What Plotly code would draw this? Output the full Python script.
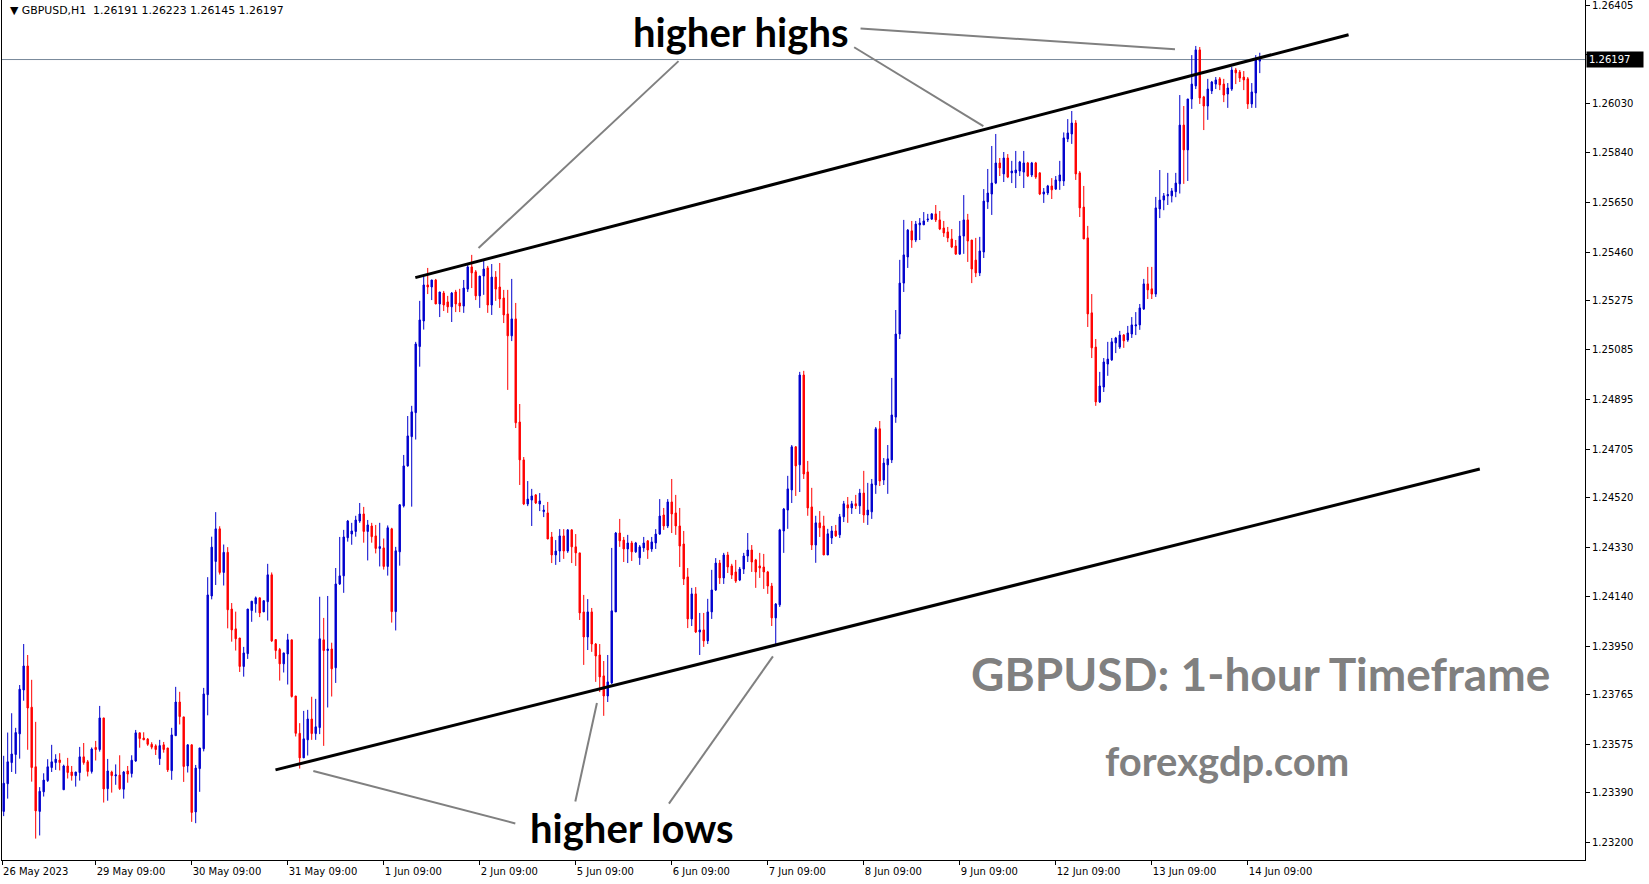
import plotly.graph_objects as go

# ---------------- data (GBPUSD H1, one value per hourly bar) ----------------
opens = [
    1.23318, 1.23424, 1.23505, 1.23536, 1.23615, 1.23783, 1.23875, 1.23717, 1.23489, 1.23318,
    1.23393, 1.23436, 1.23486, 1.23505, 1.23515, 1.23401, 1.23492, 1.23469, 1.23455, 1.23467,
    1.23527, 1.23508, 1.23471, 1.23563, 1.23555, 1.23676, 1.23405, 1.23469, 1.23454, 1.23457,
    1.23403, 1.23473, 1.23463, 1.23511, 1.23619, 1.23599, 1.23595, 1.23575, 1.23569, 1.23520,
    1.23573, 1.23561, 1.23474, 1.23608, 1.23737, 1.23680, 1.23492, 1.23573, 1.23316, 1.23482,
    1.23558, 1.23765, 1.24143, 1.24275, 1.24400, 1.24233, 1.24310, 1.24093, 1.24017, 1.23982,
    1.23873, 1.23922, 1.24087, 1.24113, 1.24136, 1.24082, 1.24121, 1.24224, 1.23976, 1.23938,
    1.23883, 1.23921, 1.23975, 1.23760, 1.23617, 1.23523, 1.23592, 1.23672, 1.23616, 1.23639,
    1.23975, 1.23934, 1.23940, 1.23868, 1.24189, 1.24220, 1.24366, 1.24380, 1.24390, 1.24430,
    1.24457, 1.24390, 1.24411, 1.24373, 1.24325, 1.24327, 1.24256, 1.24400, 1.24083, 1.24312,
    1.24488, 1.24641, 1.24753, 1.24845, 1.25098, 1.25196, 1.25334, 1.25326, 1.25353, 1.25261,
    1.25303, 1.25269, 1.25250, 1.25307, 1.25265, 1.25253, 1.25318, 1.25403, 1.25384, 1.25292,
    1.25368, 1.25399, 1.25257, 1.25364, 1.25326, 1.25284, 1.25223, 1.25139, 1.25204, 1.24809,
    1.24664, 1.24495, 1.24510, 1.24530, 1.24495, 1.24466, 1.24461, 1.24369, 1.24300, 1.24315,
    1.24373, 1.24315, 1.24396, 1.24331, 1.24308, 1.24082, 1.23986, 1.24082, 1.23959, 1.23917,
    1.23837, 1.23760, 1.23810, 1.24082, 1.24384, 1.24357, 1.24323, 1.24346, 1.24312, 1.24289,
    1.24327, 1.24354, 1.24323, 1.24346, 1.24380, 1.24453, 1.24411, 1.24503, 1.24461, 1.24411,
    1.24342, 1.24216, 1.24055, 1.24151, 1.24005, 1.24013, 1.23971, 1.24082, 1.24166, 1.24269,
    1.24212, 1.24300, 1.24258, 1.24235, 1.24204, 1.24246, 1.24296, 1.24319, 1.24281, 1.24258,
    1.24254, 1.24235, 1.24181, 1.24059, 1.24109, 1.24392, 1.24472, 1.24549, 1.24714, 1.24645,
    1.24989, 1.24618, 1.24484, 1.24338, 1.24423, 1.24411, 1.24300, 1.24365, 1.24392, 1.24377,
    1.24446, 1.24492, 1.24480, 1.24496, 1.24488, 1.24537, 1.24453, 1.24465, 1.24568, 1.24783,
    1.24587, 1.24645, 1.24664, 1.24828, 1.25146, 1.25341, 1.25441, 1.25541, 1.25506, 1.25564,
    1.25564, 1.25583, 1.25586, 1.25606, 1.25583, 1.25552, 1.25537, 1.25510, 1.25483, 1.25452,
    1.25521, 1.25583, 1.25506, 1.25429, 1.25380, 1.25460, 1.25652, 1.25682, 1.25724, 1.25801,
    1.25759, 1.25820, 1.25763, 1.25763, 1.25770, 1.25766, 1.25801, 1.25755, 1.25801, 1.25763,
    1.25682, 1.25686, 1.25713, 1.25701, 1.25732, 1.25732, 1.25893, 1.25912, 1.25954, 1.25763,
    1.25632, 1.25514, 1.25227, 1.25096, 1.24886, 1.24943, 1.25031, 1.25047, 1.25112, 1.25096,
    1.25142, 1.25123, 1.25146, 1.25177, 1.25181, 1.25242, 1.25338, 1.25319, 1.25299, 1.25625,
    1.25659, 1.25675, 1.25675, 1.25691, 1.25721, 1.25946, 1.25851, 1.26046, 1.26096, 1.26234,
    1.26054, 1.26019, 1.26077, 1.26103, 1.26123, 1.26103, 1.26065, 1.26084, 1.26157, 1.26149,
    1.26130, 1.26123, 1.26027, 1.26069, 1.26191,
]
highs = [
    1.23531, 1.23620, 1.23694, 1.23638, 1.23802, 1.23959, 1.23917, 1.23822, 1.23661, 1.23411,
    1.23464, 1.23518, 1.23573, 1.23537, 1.23541, 1.23497, 1.23523, 1.23492, 1.23469, 1.23565,
    1.23580, 1.23515, 1.23563, 1.23588, 1.23722, 1.23676, 1.23519, 1.23474, 1.23498, 1.23533,
    1.23473, 1.23492, 1.23533, 1.23630, 1.23619, 1.23621, 1.23599, 1.23583, 1.23575, 1.23592,
    1.23584, 1.23561, 1.23638, 1.23795, 1.23776, 1.23680, 1.23575, 1.23575, 1.23496, 1.23561,
    1.23791, 1.24215, 1.24370, 1.24464, 1.24410, 1.24340, 1.24330, 1.24116, 1.24083, 1.23982,
    1.23948, 1.24093, 1.24123, 1.24141, 1.24136, 1.24125, 1.24266, 1.24233, 1.23976, 1.23944,
    1.23925, 1.23998, 1.23975, 1.23760, 1.23656, 1.23703, 1.23707, 1.23757, 1.23749, 1.24140,
    1.24059, 1.24143, 1.23964, 1.24250, 1.24369, 1.24396, 1.24434, 1.24423, 1.24450, 1.24499,
    1.24484, 1.24434, 1.24423, 1.24415, 1.24423, 1.24363, 1.24413, 1.24404, 1.24331, 1.24495,
    1.24683, 1.24832, 1.24871, 1.25116, 1.25273, 1.25368, 1.25399, 1.25353, 1.25357, 1.25307,
    1.25311, 1.25292, 1.25307, 1.25315, 1.25319, 1.25353, 1.25410, 1.25449, 1.25391, 1.25368,
    1.25429, 1.25407, 1.25414, 1.25387, 1.25418, 1.25315, 1.25315, 1.25357, 1.25265, 1.24878,
    1.24675, 1.24583, 1.24553, 1.24533, 1.24537, 1.24491, 1.24503, 1.24388, 1.24357, 1.24399,
    1.24399, 1.24399, 1.24399, 1.24380, 1.24308, 1.24147, 1.24131, 1.24097, 1.23963, 1.23959,
    1.23894, 1.23917, 1.24327, 1.24388, 1.24438, 1.24369, 1.24377, 1.24354, 1.24350, 1.24338,
    1.24369, 1.24357, 1.24369, 1.24399, 1.24514, 1.24480, 1.24514, 1.24591, 1.24530, 1.24480,
    1.24392, 1.24250, 1.24174, 1.24177, 1.24078, 1.24078, 1.24132, 1.24243, 1.24288, 1.24281,
    1.24308, 1.24312, 1.24266, 1.24281, 1.24254, 1.24308, 1.24384, 1.24338, 1.24285, 1.24308,
    1.24304, 1.24239, 1.24193, 1.24116, 1.24400, 1.24480, 1.24603, 1.24721, 1.24717, 1.25001,
    1.25005, 1.24660, 1.24557, 1.24450, 1.24468, 1.24450, 1.24400, 1.24411, 1.24415, 1.24457,
    1.24507, 1.24522, 1.24507, 1.24530, 1.24553, 1.24622, 1.24576, 1.24591, 1.24790, 1.24813,
    1.24671, 1.24721, 1.24978, 1.25238, 1.25430, 1.25583, 1.25548, 1.25579, 1.25579, 1.25590,
    1.25613, 1.25606, 1.25609, 1.25640, 1.25617, 1.25579, 1.25556, 1.25548, 1.25506, 1.25579,
    1.25678, 1.25606, 1.25506, 1.25514, 1.25518, 1.25701, 1.25778, 1.25866, 1.25912, 1.25820,
    1.25843, 1.25835, 1.25809, 1.25847, 1.25809, 1.25847, 1.25805, 1.25805, 1.25805, 1.25766,
    1.25705, 1.25717, 1.25743, 1.25751, 1.25809, 1.25918, 1.25969, 1.26000, 1.25965, 1.25770,
    1.25713, 1.25560, 1.25299, 1.25127, 1.25001, 1.25054, 1.25116, 1.25131, 1.25135, 1.25158,
    1.25146, 1.25177, 1.25211, 1.25230, 1.25261, 1.25357, 1.25403, 1.25403, 1.25671, 1.25774,
    1.25686, 1.25763, 1.25705, 1.25763, 1.26061, 1.26019, 1.26046, 1.26214, 1.26249, 1.26245,
    1.26058, 1.26123, 1.26115, 1.26130, 1.26130, 1.26123, 1.26107, 1.26169, 1.26165, 1.26157,
    1.26153, 1.26130, 1.26107, 1.26214, 1.26223,
]
lows = [
    1.23300, 1.23367, 1.23469, 1.23462, 1.23520, 1.23742, 1.23554, 1.23432, 1.23214, 1.23226,
    1.23375, 1.23431, 1.23469, 1.23477, 1.23475, 1.23401, 1.23444, 1.23436, 1.23413, 1.23436,
    1.23497, 1.23452, 1.23463, 1.23513, 1.23547, 1.23352, 1.23359, 1.23390, 1.23420, 1.23400,
    1.23367, 1.23428, 1.23448, 1.23508, 1.23562, 1.23592, 1.23569, 1.23556, 1.23534, 1.23496,
    1.23543, 1.23469, 1.23439, 1.23608, 1.23651, 1.23431, 1.23467, 1.23278, 1.23273, 1.23393,
    1.23548, 1.23686, 1.24130, 1.24185, 1.24225, 1.24183, 1.24019, 1.23968, 1.23934, 1.23852,
    1.23834, 1.23902, 1.24044, 1.24079, 1.24062, 1.24082, 1.24049, 1.23967, 1.23902, 1.23819,
    1.23850, 1.23804, 1.23754, 1.23605, 1.23482, 1.23523, 1.23532, 1.23592, 1.23592, 1.23614,
    1.23569, 1.23716, 1.23758, 1.23810, 1.24185, 1.24155, 1.24351, 1.24339, 1.24370, 1.24423,
    1.24347, 1.24279, 1.24347, 1.24306, 1.24256, 1.24244, 1.24221, 1.24041, 1.24011, 1.24259,
    1.24482, 1.24638, 1.24485, 1.24742, 1.25021, 1.25163, 1.25299, 1.25276, 1.25261, 1.25211,
    1.25234, 1.25227, 1.25192, 1.25230, 1.25230, 1.25227, 1.25307, 1.25322, 1.25276, 1.25246,
    1.25296, 1.25227, 1.25219, 1.25273, 1.25246, 1.25188, 1.24932, 1.25119, 1.24786, 1.24568,
    1.24491, 1.24487, 1.24411, 1.24495, 1.24468, 1.24445, 1.24361, 1.24269, 1.24262, 1.24273,
    1.24285, 1.24308, 1.24269, 1.24258, 1.24051, 1.23879, 1.23936, 1.23929, 1.23814, 1.23775,
    1.23684, 1.23737, 1.23806, 1.24082, 1.24331, 1.24273, 1.24269, 1.24277, 1.24308, 1.24262,
    1.24312, 1.24285, 1.24312, 1.24323, 1.24377, 1.24396, 1.24403, 1.24384, 1.24377, 1.24254,
    1.24185, 1.24020, 1.24028, 1.24001, 1.23917, 1.23948, 1.23959, 1.24055, 1.24162, 1.24189,
    1.24189, 1.24231, 1.24208, 1.24193, 1.24200, 1.24227, 1.24273, 1.24235, 1.24174, 1.24212,
    1.24170, 1.24151, 1.24028, 1.23959, 1.24101, 1.24308, 1.24400, 1.24499, 1.24526, 1.24541,
    1.24591, 1.24450, 1.24319, 1.24270, 1.24369, 1.24300, 1.24300, 1.24342, 1.24369, 1.24365,
    1.24426, 1.24423, 1.24457, 1.24476, 1.24457, 1.24423, 1.24415, 1.24438, 1.24534, 1.24564,
    1.24568, 1.24534, 1.24652, 1.24806, 1.25127, 1.25307, 1.25399, 1.25476, 1.25498, 1.25506,
    1.25564, 1.25575, 1.25583, 1.25575, 1.25544, 1.25518, 1.25498, 1.25475, 1.25449, 1.25449,
    1.25453, 1.25422, 1.25341, 1.25364, 1.25368, 1.25437, 1.25625, 1.25602, 1.25720, 1.25751,
    1.25728, 1.25743, 1.25724, 1.25705, 1.25751, 1.25705, 1.25747, 1.25747, 1.25740, 1.25678,
    1.25648, 1.25678, 1.25663, 1.25698, 1.25698, 1.25713, 1.25881, 1.25874, 1.25736, 1.25594,
    1.25510, 1.25173, 1.25054, 1.24871, 1.24882, 1.24924, 1.24986, 1.25043, 1.25073, 1.25089,
    1.25093, 1.25116, 1.25131, 1.25142, 1.25162, 1.25238, 1.25280, 1.25280, 1.25288, 1.25590,
    1.25620, 1.25640, 1.25650, 1.25670, 1.25684, 1.25721, 1.25732, 1.26008, 1.26084, 1.26027,
    1.25927, 1.25966, 1.26065, 1.26084, 1.26080, 1.26034, 1.26012, 1.26077, 1.26103, 1.26111,
    1.26080, 1.26008, 1.26012, 1.26012, 1.26145,
]
closes = [
    1.23426, 1.23508, 1.23538, 1.23620, 1.23786, 1.23875, 1.23714, 1.23486, 1.23320, 1.23395,
    1.23438, 1.23489, 1.23508, 1.23518, 1.23505, 1.23492, 1.23467, 1.23455, 1.23469, 1.23527,
    1.23505, 1.23471, 1.23557, 1.23555, 1.23676, 1.23404, 1.23473, 1.23455, 1.23458, 1.23405,
    1.23469, 1.23461, 1.23514, 1.23619, 1.23597, 1.23592, 1.23575, 1.23564, 1.23555, 1.23570,
    1.23555, 1.23477, 1.23611, 1.23737, 1.23681, 1.23490, 1.23573, 1.23314, 1.23484, 1.23561,
    1.23768, 1.24147, 1.24330, 1.24400, 1.24233, 1.24310, 1.24090, 1.24013, 1.23979, 1.23873,
    1.23925, 1.24093, 1.24123, 1.24136, 1.24078, 1.24125, 1.24224, 1.23971, 1.23934, 1.23883,
    1.23925, 1.23975, 1.23758, 1.23617, 1.23523, 1.23596, 1.23672, 1.23616, 1.23642, 1.23979,
    1.23934, 1.23940, 1.23864, 1.24189, 1.24220, 1.24369, 1.24430, 1.24392, 1.24434, 1.24457,
    1.24390, 1.24415, 1.24370, 1.24325, 1.24332, 1.24256, 1.24404, 1.24083, 1.24316, 1.24492,
    1.24641, 1.24756, 1.24848, 1.25108, 1.25200, 1.25334, 1.25326, 1.25353, 1.25261, 1.25307,
    1.25257, 1.25250, 1.25303, 1.25261, 1.25253, 1.25322, 1.25403, 1.25380, 1.25292, 1.25368,
    1.25395, 1.25257, 1.25364, 1.25318, 1.25280, 1.25219, 1.25139, 1.25204, 1.24806, 1.24664,
    1.24495, 1.24514, 1.24526, 1.24499, 1.24507, 1.24472, 1.24361, 1.24300, 1.24315, 1.24373,
    1.24315, 1.24396, 1.24331, 1.24308, 1.24078, 1.23986, 1.24082, 1.23959, 1.23913, 1.23833,
    1.23760, 1.23814, 1.24086, 1.24384, 1.24354, 1.24323, 1.24346, 1.24312, 1.24346, 1.24331,
    1.24346, 1.24319, 1.24350, 1.24380, 1.24449, 1.24411, 1.24503, 1.24457, 1.24411, 1.24334,
    1.24208, 1.24055, 1.24151, 1.24005, 1.24013, 1.23971, 1.24082, 1.24166, 1.24269, 1.24212,
    1.24300, 1.24254, 1.24223, 1.24200, 1.24246, 1.24296, 1.24319, 1.24273, 1.24235, 1.24250,
    1.24235, 1.24181, 1.24059, 1.24112, 1.24396, 1.24476, 1.24553, 1.24714, 1.24641, 1.24989,
    1.24610, 1.24480, 1.24338, 1.24423, 1.24404, 1.24300, 1.24381, 1.24392, 1.24373, 1.24446,
    1.24496, 1.24480, 1.24496, 1.24488, 1.24537, 1.24453, 1.24472, 1.24572, 1.24783, 1.24583,
    1.24652, 1.24668, 1.24836, 1.25146, 1.25341, 1.25449, 1.25544, 1.25506, 1.25567, 1.25571,
    1.25579, 1.25586, 1.25606, 1.25583, 1.25548, 1.25533, 1.25514, 1.25479, 1.25452, 1.25521,
    1.25583, 1.25502, 1.25395, 1.25380, 1.25464, 1.25655, 1.25686, 1.25724, 1.25801, 1.25782,
    1.25820, 1.25747, 1.25770, 1.25774, 1.25805, 1.25801, 1.25751, 1.25801, 1.25747, 1.25682,
    1.25690, 1.25713, 1.25698, 1.25736, 1.25755, 1.25897, 1.25916, 1.25954, 1.25759, 1.25629,
    1.25510, 1.25223, 1.25093, 1.24886, 1.24947, 1.25039, 1.25050, 1.25116, 1.25131, 1.25142,
    1.25120, 1.25150, 1.25181, 1.25181, 1.25246, 1.25338, 1.25315, 1.25299, 1.25629, 1.25659,
    1.25675, 1.25680, 1.25694, 1.25724, 1.25946, 1.25851, 1.26046, 1.26103, 1.26234, 1.26050,
    1.26019, 1.26084, 1.26111, 1.26119, 1.26100, 1.26061, 1.26088, 1.26157, 1.26146, 1.26126,
    1.26119, 1.26027, 1.26073, 1.26199, 1.26197,
]

# x-axis: bar positions of the time labels and their texts
time_tick_bars = [-0.4, 23, 47, 71, 95, 119, 143, 167, 191, 215, 239, 263, 287, 311]
time_tick_labels = ["26 May 2023", "29 May 09:00", "30 May 09:00", "31 May 09:00",
                    "1 Jun 09:00", "2 Jun 09:00", "5 Jun 09:00", "6 Jun 09:00",
                    "7 Jun 09:00", "8 Jun 09:00", "9 Jun 09:00", "12 Jun 09:00",
                    "13 Jun 09:00", "14 Jun 09:00"]

# y-axis price labels (1.26215 sits under the current-price tag, so its text is hidden)
price_ticks = [1.26405, 1.26215, 1.26030, 1.25840, 1.25650, 1.25460, 1.25275, 1.25085,
               1.24895, 1.24705, 1.24520, 1.24330, 1.24140, 1.23950, 1.23765, 1.23575,
               1.23390, 1.23200]
hidden_price_ticks = [1.26215]

# drawing objects (bar index, price)
upper_trend = ([102.9, 336.2], [1.25362, 1.26292])
lower_trend = ([67.95, 369.0], [1.23477, 1.24629])
pointer_lines = [
    ([168.7, 118.7], [1.26191, 1.25475]),
    ([212.6, 244.9], [1.26244, 1.25942]),
    ([214.2, 292.8], [1.26316, 1.26236]),
    ([127.9, 77.4], [1.23272, 1.23473]),
    ([142.9, 148.3], [1.23356, 1.23733]),
    ([166.3, 192.3], [1.23348, 1.23912]),
]
labels = [
    ("higher highs", 184.2, 1.26304),
    ("higher lows", 157.1, 1.23256),
]

BLUE = "#0000CD"
RED = "#FF0000"
AXIS_FONT = dict(family="DejaVu Sans", size=10, color="black")

bars = list(range(len(closes)))
last_close = closes[-1]

fig = go.Figure()
fig.add_trace(go.Candlestick(
    x=bars, open=opens, high=highs, low=lows, close=closes,
    increasing=dict(line=dict(color=BLUE, width=1), fillcolor=BLUE),
    decreasing=dict(line=dict(color=RED, width=1), fillcolor=RED),
    whiskerwidth=0, showlegend=False, hoverinfo="skip",
))

shapes = []
# current price line
shapes.append(dict(type="line", xref="paper", x0=0, x1=1, yref="y",
                   y0=last_close, y1=last_close,
                   line=dict(color="#778899", width=1), layer="below"))
for (xs, ys) in (upper_trend, lower_trend):
    shapes.append(dict(type="line", xref="x", yref="y", x0=xs[0], x1=xs[1],
                       y0=ys[0], y1=ys[1], line=dict(color="black", width=3)))
for (xs, ys) in pointer_lines:
    shapes.append(dict(type="line", xref="x", yref="y", x0=xs[0], x1=xs[1],
                       y0=ys[0], y1=ys[1], line=dict(color="#808080", width=2)))

annotations = []
annotations.append(dict(xref="paper", yref="paper", x=0.004, y=0.998,
                        xanchor="left", yanchor="top", showarrow=False,
                        text="\u25BC GBPUSD,H1  1.26191 1.26223 1.26145 1.26197",
                        font=dict(family="DejaVu Sans", size=10.9, color="black")))
for (txt, lx, ly) in labels:
    annotations.append(dict(xref="x", yref="y", x=lx, y=ly, text=txt, showarrow=False,
                            xanchor="center", yanchor="middle",
                            font=dict(family="Lato", size=40, color="black", weight="bold")))
annotations.append(dict(xref="x", yref="y", x=314.1, y=1.23848,
                        text="GBPUSD: 1-hour Timeframe", showarrow=False,
                        font=dict(family="Lato", size=46, color="#808080", weight="bold")))
annotations.append(dict(xref="x", yref="y", x=305.7, y=1.23510,
                        text="forexgdp.com", showarrow=False,
                        font=dict(family="Lato", size=40, color="#808080", weight="bold")))
# price tag on the right axis
annotations.append(dict(xref="paper", yref="y", x=1.0, y=last_close, xanchor="left",
                        yanchor="middle", xshift=1, showarrow=False,
                        text=f"{last_close:.5f}", bgcolor="black", borderpad=2,
                        width=52, align="left",
                        font=dict(family="DejaVu Sans", size=10, color="white")))

fig.update_layout(
    width=1649, height=884,
    margin=dict(l=2, r=64, t=0, b=24, autoexpand=False),
    paper_bgcolor="white", plot_bgcolor="white",
    showlegend=False,
    shapes=shapes, annotations=annotations,
    boxgap=0.5,
    xaxis=dict(range=[-0.42, 395.3], rangeslider=dict(visible=False), automargin=False,
               tickmode="array", tickvals=time_tick_bars, ticktext=time_tick_labels,
               ticks="outside", ticklen=4, tickcolor="black",
               ticklabelposition="outside right", ticklabelstandoff=2,
               showgrid=False, zeroline=False, showline=True, linecolor="black",
               linewidth=1, tickfont=AXIS_FONT),
    yaxis=dict(range=[1.23132, 1.26425], side="right", automargin=False,
               tickmode="array", tickvals=price_ticks,
               ticktext=["" if v in hidden_price_ticks else f"{v:.5f}" for v in price_ticks],
               ticks="outside", ticklen=4, tickcolor="black", ticklabeloverflow="allow",
               showgrid=False, zeroline=False, showline=True, mirror=True,
               linecolor="black", linewidth=1, tickfont=AXIS_FONT),
)

fig.write_html(
    "out.html",
    config={"displayModeBar": False},
    post_script="document.body.style.margin='0';document.body.style.overflow='hidden';",
)
